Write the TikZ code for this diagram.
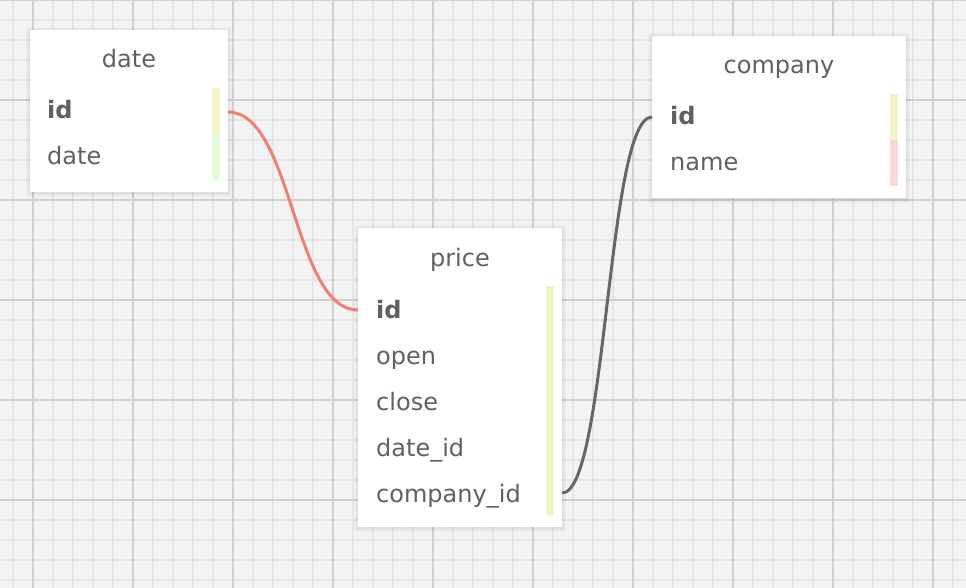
\documentclass[tikz,border=0pt]{standalone}
\usepackage{fontspec}
\setmainfont{DejaVu Sans}
\usetikzlibrary{calc}
\begin{document}
\begin{tikzpicture}[x=1pt,y=-1pt,
  minorline/.style={draw=gridminor, line width=1.6pt},
  majorline/.style={draw=gridmajor, line width=1.8pt},
  tbl/.style={fill=white, draw=none, inner sep=0pt, anchor=north west},
  ttl/.style={anchor=base, inner sep=0pt, text=txt, font=\fontsize{24}{29}\selectfont},
  fld/.style={anchor=base west, inner sep=0pt, text=txt, font=\fontsize{24}{29}\selectfont},
  pk/.style={fld, font=\fontsize{24}{29}\selectfont\bfseries},
  link/.style={line width=3pt},
]
\definecolor{bg}{HTML}{F3F3F3}
\definecolor{gridminor}{HTML}{E5E5E5}
\definecolor{gridmajor}{HTML}{CFCFCF}
\definecolor{txt}{HTML}{606060}
\definecolor{barY}{HTML}{F5F2C8}
\definecolor{barG}{HTML}{E2FCDC}
\definecolor{barP}{HTML}{F9D9D7}
\definecolor{redlink}{HTML}{EE8073}
\definecolor{greylink}{HTML}{666666}

\useasboundingbox (0,0) rectangle (966,588);
\fill[bg] (0,0) rectangle (966,588);
% grid
\foreach \x in {13,33,...,953} \draw[minorline] (\x,0) -- (\x,588);
\foreach \y in {0,20,...,580} \draw[minorline] (0,\y) -- (966,\y);
\foreach \x in {33,133,...,933} \draw[majorline] (\x,0) -- (\x,588);
\foreach \y in {0,100,...,500} \draw[majorline] (0,\y) -- (966,\y);

% shadows
\foreach \bx/\by/\ex/\ey in {30/30/228/192, 358/228/562/527, 652/36/906/198}{
  \foreach \r in {4,3,2,1}{
    \fill[black, opacity=0.02] (\bx-\r,\by-\r+1) rectangle (\ex+\r,\ey+\r+1);
  }
}

% tables
\node[tbl, minimum width=198pt, minimum height=162pt] (date) at (30,30) {};
\node[tbl, minimum width=204pt, minimum height=299pt] (price) at (358,228) {};
\node[tbl, minimum width=254pt, minimum height=162pt] (company) at (652,36) {};

% date table
\node[ttl] (dateT) at (129,68) {date};
\node[pk] (dateId) at (47,119) {id};
\node[fld] (dateDate) at (47,165) {date};
\fill[barY] (212,88) rectangle (220,134);
\fill[barG] (212,134) rectangle (220,180);

% price table
\node[ttl] (priceT) at (460,266) {price};
\node[pk] (priceId) at (376,318) {id};
\node[fld] (priceOpen) at (376,364) {open};
\node[fld] (priceClose) at (376,410) {close};
\node[fld] (priceDate) at (376,456) {date\_id};
\node[fld] (priceComp) at (376,502) {company\_id};
\fill[barY] (546,286) rectangle (554,516);

% company table
\node[ttl] (compT) at (779,74) {company};
\node[pk] (compId) at (670,125) {id};
\node[fld] (compName) at (670,171) {name};
\fill[barY] (890,94) rectangle (898,140);
\fill[barP] (890,140) rectangle (898,186);

% connector anchors
\coordinate (aDateId) at (228,112);
\coordinate (aPriceId) at (358,310);
\coordinate (aPriceComp) at (562,493);
\coordinate (aCompId) at (652,117);

\draw[link, redlink] (aDateId) .. controls ($(aDateId)+(65,0)$) and ($(aPriceId)+(-65,0)$) .. (aPriceId);
\draw[link, greylink] (aPriceComp) .. controls ($(aPriceComp)+(45,0)$) and ($(aCompId)+(-45,0)$) .. (aCompId);
\end{tikzpicture}
\end{document}
